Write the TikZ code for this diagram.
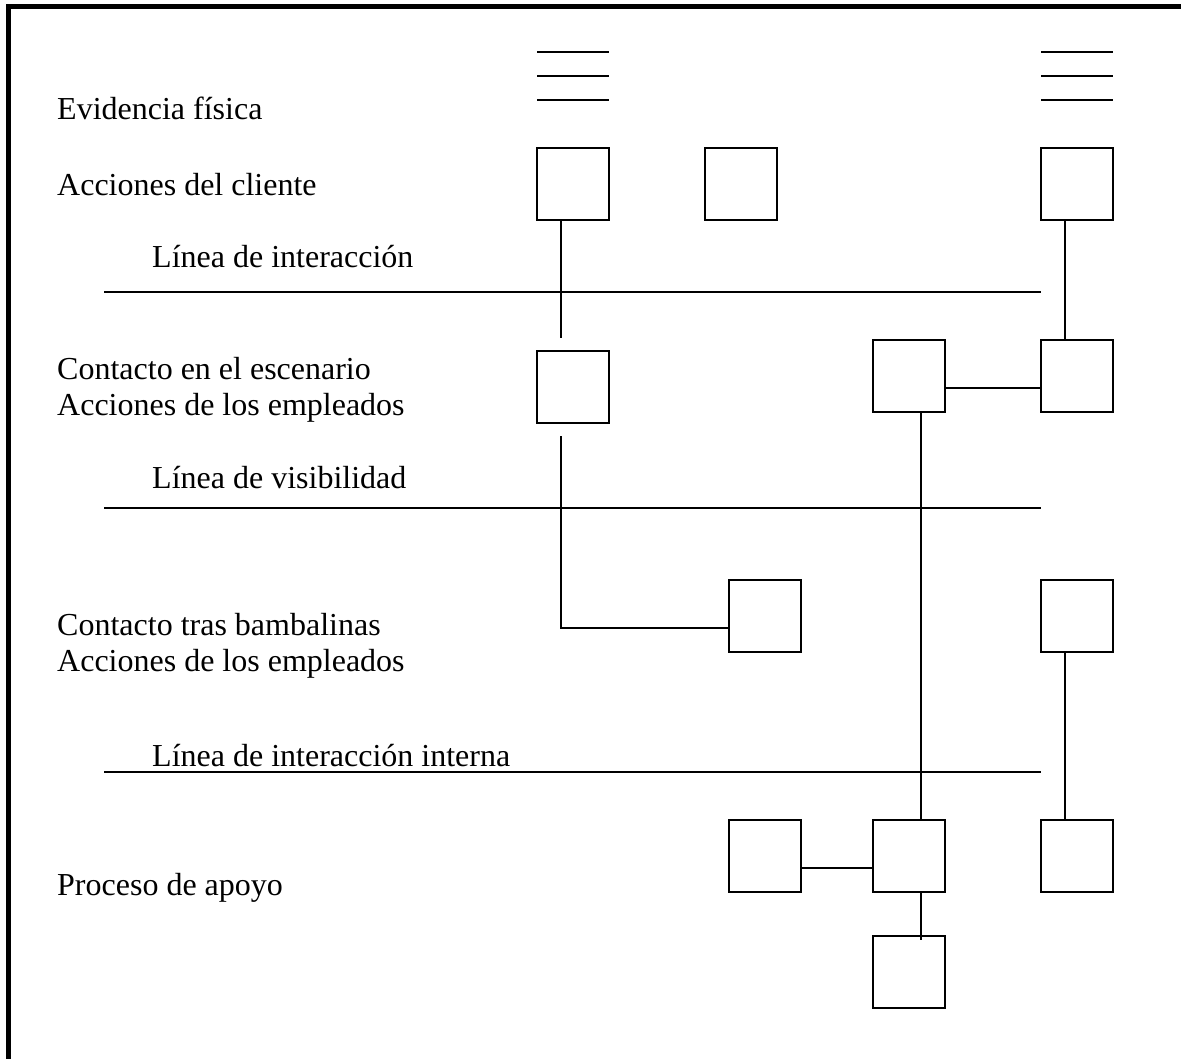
\documentclass[tikz,border=0pt]{standalone}
\usepackage{fontspec}
\setmainfont{Liberation Serif}
\usetikzlibrary{positioning,calc}

\begin{document}
\begin{tikzpicture}[
  x=1pt, y=-1pt,
  font=\fontsize{32}{36}\selectfont,
  box/.style={draw, line width=2pt, minimum size=72pt, inner sep=0pt},
  lbl/.style={anchor=base west, inner sep=0pt, align=left},
  conn/.style={line width=2pt},
  sep/.style={line width=2pt},
]
\useasboundingbox (0,0) rectangle (1181,1059);
% frame
\draw[line width=5pt] (8.5,1059) -- (8.5,7) -- (1181,7);
% row labels (base = last line)
\node[lbl] (ev)  at (57,120) {Evidencia física};
\node[lbl] (ca)  at (57,196) {Acciones del cliente};
\node[lbl] (li)  at (152,268) {Línea de interacción};
\node[lbl] (os)  at (57,415) {Contacto en el escenario\\Acciones de los empleados};
\node[lbl] (lv)  at (152,488) {Línea de visibilidad};
\node[lbl] (bs)  at (57,671) {Contacto tras bambalinas\\Acciones de los empleados};
\node[lbl] (lii) at (152,766) {Línea de interacción interna};
\node[lbl] (sp)  at (57,895) {Proceso de apoyo};
% physical evidence
\coordinate (ev1) at (573,76);
\coordinate (ev2) at (1077,76);
\foreach \e in {ev1,ev2}
  \foreach \dy in {-24,0,24}
    \draw[sep] ($(\e)+(-36,\dy)$) -- ++(72,0);
% customer actions
\node[box] (c1) at (573,184) {};
\node[box] (c2) at (741,184) {};
\node[box] (c3) at (1077,184) {};
% onstage
\node[box] (on1) at (573,387) {};
\node[box] (on2) at (909,376) {};
\node[box] (on3) at (1077,376) {};
% backstage
\node[box] (bk1) at (765,616) {};
\node[box] (bk2) at (1077,616) {};
% support
\node[box] (sp1) at (765,856) {};
\node[box] (sp2) at (909,856) {};
\node[box] (sp3) at (1077,856) {};
\node[box] (sp4) at (909,972) {};
% separator lines
\draw[sep] (104,292) -- (1041,292);
\draw[sep] (104,508) -- (1041,508);
\draw[sep] (104,772) -- (1041,772);
% connectors
\draw[conn] ($(c1.south)+(-12,0)$) -- ($(on1.north)+(-12,-12)$);
\draw[conn] ($(on1.south)+(-12,12)$) |- ($(bk1.west)+(0,12)$);
\draw[conn] ($(c3.south)+(-12,0)$) -- ($(on3.north)+(-12,0)$);
\draw[conn] ($(on2.east)+(0,12)$) -- ($(on3.west)+(0,12)$);
\draw[conn] ($(on2.south)+(12,0)$) -- ($(sp2.north)+(12,0)$);
\draw[conn] ($(bk2.south)+(-12,0)$) -- ($(sp3.north)+(-12,0)$);
\draw[conn] ($(sp1.east)+(0,12)$) -- ($(sp2.west)+(0,12)$);
\draw[conn] ($(sp2.south)+(12,0)$) -- ($(sp4.north)+(12,5)$);
\end{tikzpicture}
\end{document}
